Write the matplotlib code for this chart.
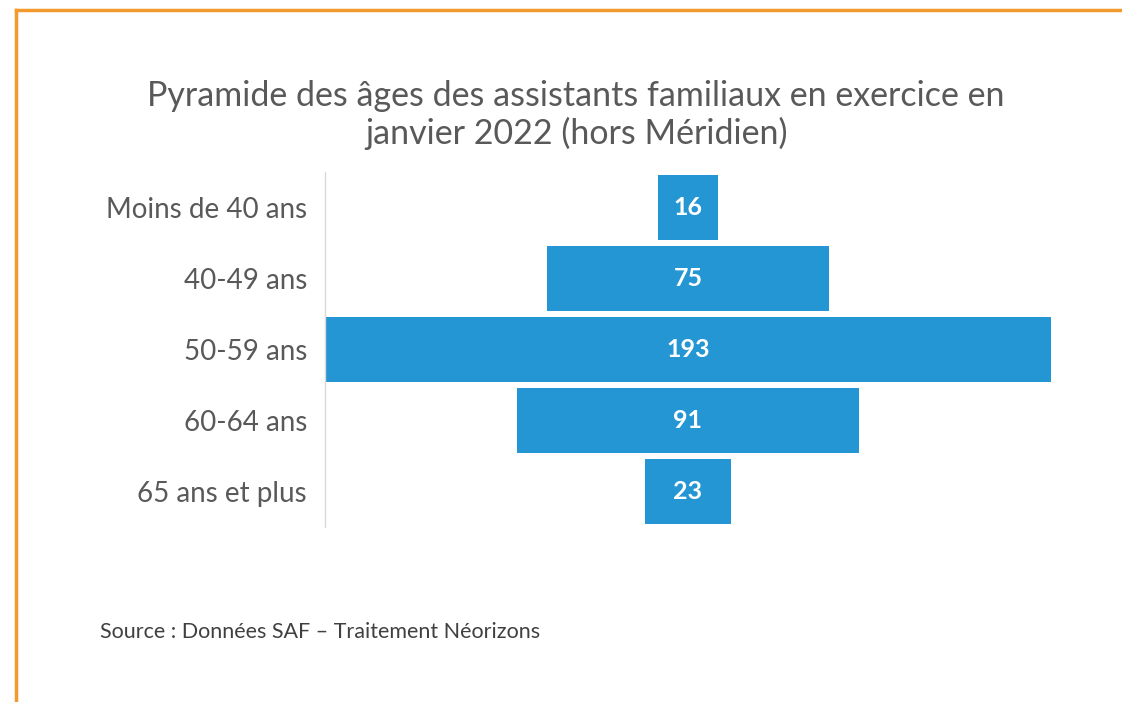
import matplotlib
matplotlib.use("Agg")
import matplotlib.pyplot as plt
from matplotlib.lines import Line2D

# ── Data ────────────────────────────────────────────────────────────────────
age_groups = ["Moins de 40 ans", "40-49 ans", "50-59 ans", "60-64 ans", "65 ans et plus"]
counts     = [16, 75, 193, 91, 23]

TITLE  = "Pyramide des âges des assistants familiaux en exercice en\njanvier 2022 (hors Méridien)"
SOURCE = "Source : Données SAF – Traitement Néorizons"

BAR_COLOR  = "#2596D4"
TEXT_COLOR = "#595959"
FRAME      = "#F39A2E"

plt.rcParams["font.family"] = ["Lato", "DejaVu Sans"]

W, H = 1122, 702
fig = plt.figure(figsize=(W / 100, H / 100), dpi=100)
fig.patch.set_facecolor("white")

# axes box in pixel coordinates (left, top, right, bottom)
x0, y0, x1, y1 = 325, 172, 1051, 527
ax = fig.add_axes([x0 / W, 1 - y1 / H, (x1 - x0) / W, (y1 - y0) / H])

# centred bars -> funnel / pyramid shape
lefts = [-c / 2 for c in counts]
ax.barh(range(len(counts)), counts, left=lefts, height=0.92,
        color=BAR_COLOR, edgecolor="none")
for i, c in enumerate(counts):
    ax.text(0, i, str(c), ha="center", va="center",
            color="white", fontsize=18, fontweight="bold")

half = max(counts) / 2
ax.set_xlim(-half, half)
ax.set_ylim(len(counts) - 0.5, -0.5)
ax.set_yticks(range(len(counts)))
ax.set_yticklabels(age_groups, fontsize=20, color=TEXT_COLOR)
ax.tick_params(axis="y", length=0, pad=13)
ax.set_xticks([])
for side in ["top", "right", "bottom"]:
    ax.spines[side].set_visible(False)
ax.spines["left"].set_color("#D9D9D9")
ax.spines["left"].set_linewidth(1)

fig.text(576 / W, 1 - 115 / H, TITLE, ha="center", va="center",
         fontsize=24.5, color=TEXT_COLOR, linespacing=1.15)
fig.text(100 / W, 1 - 632 / H, SOURCE, ha="left", va="center",
         fontsize=15.5, color="#404040")

# orange frame along the top and left edges
fig.add_artist(Line2D([16 / W, 1], [1 - 10 / H, 1 - 10 / H],
                      transform=fig.transFigure, color=FRAME, lw=2.5))
fig.add_artist(Line2D([16 / W, 16 / W], [0, 1 - 10 / H],
                      transform=fig.transFigure, color=FRAME, lw=2.5))

fig.savefig("out.png", dpi=100, facecolor="white")
